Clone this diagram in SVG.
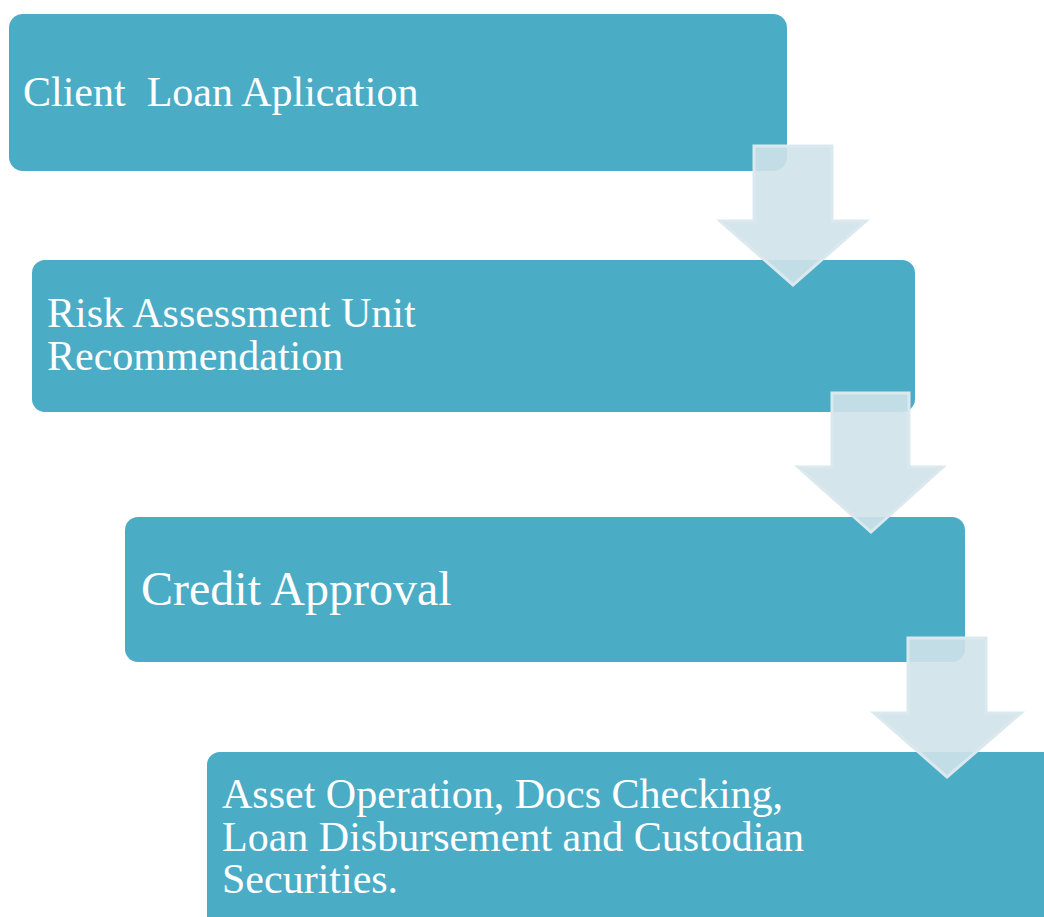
<svg xmlns="http://www.w3.org/2000/svg" width="1044" height="917" viewBox="0 0 1044 917">
<style>
.box{fill:#4bacc6;}
.t{font-family:"Liberation Serif","Times New Roman",serif;fill:#ffffff;font-size:42px;}
.arr{fill:#cfe2e9;fill-opacity:0.9;stroke:#dbe9ef;stroke-width:3;stroke-linejoin:miter;}
</style>
<rect width="1044" height="917" fill="#ffffff"/>
<g id="node1">
<rect class="box" x="9" y="14" width="778" height="157" rx="14"/>
<text class="t" x="23" y="106" xml:space="preserve">Client  Loan Aplication</text>
</g>
<g id="node2">
<rect class="box" x="32" y="260" width="883" height="152" rx="13"/>
<text class="t" x="47" y="327">Risk Assessment Unit</text>
<text class="t" x="47" y="370">Recommendation</text>
</g>
<g id="node3">
<rect class="box" x="125" y="517" width="840" height="145" rx="13"/>
<text class="t" x="141" y="605" style="font-size:48px">Credit Approval</text>
</g>
<g id="node4">
<rect class="box" x="207" y="752" width="860" height="190" rx="13"/>
<text class="t" x="222" y="808">Asset Operation, Docs Checking,</text>
<text class="t" x="222" y="851">Loan Disbursement and Custodian</text>
<text class="t" x="222" y="893">Securities.</text>
</g>
<g id="connectors">
<polygon class="arr" points="754,146 832,146 832,221 866,221 793,285 720,221 754,221"/>
<polygon class="arr" points="832,393 909,393 909,467 943,467 871,532 798,467 832,467"/>
<polygon class="arr" points="908,638 986,638 986,713 1021,713 947,777 874,713 908,713"/>
</g>
</svg>
